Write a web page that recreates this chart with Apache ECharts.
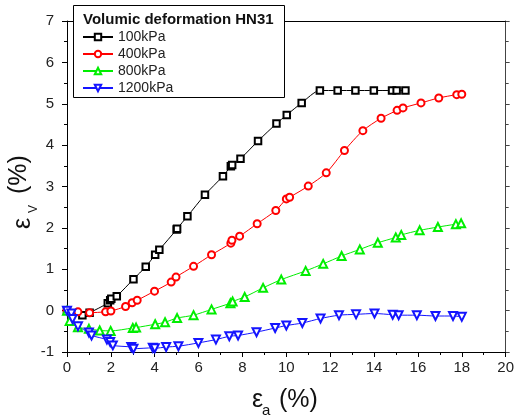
<!DOCTYPE html>
<html><head><meta charset="utf-8">
<script src="https://cdn.jsdelivr.net/npm/echarts@6/dist/echarts.min.js"></script>
<style>html,body{margin:0;padding:0;background:#fff}#c{width:517px;height:419px}</style>
</head><body><div id="c"></div>
<script>
const seriesNames = ['100kPa', '400kPa', '800kPa', '1200kPa'];
const legendTitle = 'Volumic deformation HN31';
const xTicks = [0, 2, 4, 6, 8, 10, 12, 14, 16, 18, 20];
const yTicks = [-1, 0, 1, 2, 3, 4, 5, 6, 7];

const x100 = [0, 0.7, 1.03, 1.86, 1.97, 2.02, 2.27, 3.03, 3.59, 4.02, 4.21, 5.0, 5.02, 5.49, 6.29, 7.11, 7.47, 7.53, 7.91, 8.71, 9.55, 10.02, 10.7, 11.53, 12.34, 13.15, 13.99, 14.82, 15.03, 15.43];
const y100 = [0, -0.11, -0.05, 0.18, 0.25, 0.29, 0.35, 0.76, 1.06, 1.35, 1.47, 1.96, 1.98, 2.28, 2.80, 3.25, 3.49, 3.52, 3.67, 4.10, 4.52, 4.73, 5.02, 5.32, 5.32, 5.32, 5.32, 5.32, 5.32, 5.32];

const x400 = [0, 0.5, 1.03, 1.76, 2.0, 2.67, 2.97, 3.2, 3.99, 4.75, 4.97, 5.77, 6.59, 7.47, 7.52, 7.87, 8.67, 9.52, 10.0, 10.15, 11.0, 11.82, 12.65, 13.49, 14.32, 15.05, 15.32, 16.14, 16.95, 17.77, 18.0];
const y400 = [0, -0.03, -0.05, -0.03, -0.01, 0.1, 0.19, 0.25, 0.47, 0.69, 0.81, 1.07, 1.35, 1.63, 1.70, 1.80, 2.10, 2.42, 2.70, 2.74, 3.01, 3.33, 3.87, 4.35, 4.65, 4.84, 4.90, 5.02, 5.14, 5.22, 5.23];

const x800 = [0, 0.12, 0.5, 1.0, 1.49, 1.99, 3.0, 3.15, 4.02, 4.47, 5.02, 5.77, 6.59, 7.45, 7.55, 8.1, 8.94, 9.77, 10.88, 11.68, 12.52, 13.35, 14.17, 14.99, 15.24, 16.08, 16.91, 17.73, 17.97];
const y800 = [0, -0.25, -0.40, -0.44, -0.48, -0.49, -0.42, -0.41, -0.33, -0.28, -0.18, -0.11, 0.03, 0.18, 0.22, 0.33, 0.55, 0.75, 0.96, 1.13, 1.32, 1.48, 1.64, 1.77, 1.83, 1.94, 2.02, 2.09, 2.11];

const x1200 = [0, 0.2, 0.25, 0.5, 1.0, 1.12, 1.82, 1.97, 2.09, 2.93, 3.03, 3.91, 4.0, 4.52, 5.08, 5.99, 6.79, 7.4, 7.8, 8.64, 9.49, 10.0, 10.73, 11.56, 12.4, 13.18, 14.02, 14.85, 15.12, 15.95, 16.8, 17.6, 18.0];
const y1200 = [0, -0.07, -0.2, -0.38, -0.53, -0.6, -0.70, -0.76, -0.84, -0.88, -0.92, -0.90, -0.91, -0.88, -0.86, -0.78, -0.70, -0.62, -0.60, -0.52, -0.42, -0.36, -0.30, -0.19, -0.11, -0.09, -0.07, -0.10, -0.11, -0.11, -0.13, -0.13, -0.15];

const colors = ['#000000', '#ff0000', '#00ee00', '#1414ff'];
const symbols = ['emptyRect', 'emptyCircle', 'emptyTriangle', 'emptyTriangle'];
const rotates = [0, 0, 0, 180];
const sizes = [6.5, 7, 8, 8];
const xs = [x100, x400, x800, x1200];
const ys = [y100, y400, y800, y1200];

const FONT = 'Liberation Sans, Arial, sans-serif';
const chart = echarts.init(document.getElementById('c'), null, {renderer: 'canvas'});

const series = seriesNames.map((name, i) => ({
  name: name,
  type: 'line',
  data: xs[i].map((x, j) => [x, ys[i][j]]),
  symbol: symbols[i],
  symbolSize: sizes[i],
  symbolRotate: rotates[i],
  smooth: 0.25,
  lineStyle: {color: colors[i], width: 1},
  itemStyle: {color: colors[i], borderColor: colors[i], borderWidth: 1},
  z: 2
}));

const axisCommon = {
  axisLine: {show: true, onZero: false, lineStyle: {color: '#000', width: 1}},
  splitLine: {show: false},
  axisLabel: {color: '#222', fontSize: 15, fontFamily: FONT}
};

const txt = (text, size, extra) => Object.assign({type: 'text', z: 20, style: {text: text, font: size + 'px ' + FONT, fill: '#111'}}, extra);

chart.setOption({
  animation: false,
  backgroundColor: '#fff',
  grid: {left: 67, right: 10, top: 21, bottom: 67, containLabel: false},
  xAxis: [
    Object.assign({}, axisCommon, {
      type: 'value', min: xTicks[0], max: xTicks[xTicks.length - 1], interval: 2, position: 'bottom',
      axisTick: {show: true, inside: false, length: 5, lineStyle: {color: '#000'}},
      minorTick: {show: true, splitNumber: 2, length: 3, lineStyle: {color: '#000'}},
      axisLabel: Object.assign({}, axisCommon.axisLabel, {margin: 8})
    }),
    Object.assign({}, axisCommon, {
      type: 'value', min: xTicks[0], max: xTicks[xTicks.length - 1], interval: 2, position: 'top',
      axisTick: {show: false}, axisLabel: {show: false}
    })
  ],
  yAxis: [
    Object.assign({}, axisCommon, {
      type: 'value', min: yTicks[0], max: yTicks[yTicks.length - 1], interval: 1, position: 'left',
      axisTick: {show: true, inside: false, length: 5, lineStyle: {color: '#000'}},
      minorTick: {show: true, splitNumber: 2, length: 3, lineStyle: {color: '#000'}},
      axisLabel: Object.assign({}, axisCommon.axisLabel, {margin: 13})
    }),
    Object.assign({}, axisCommon, {
      type: 'value', min: yTicks[0], max: yTicks[yTicks.length - 1], interval: 1, position: 'right',
      axisLine: {show: true, onZero: false, lineStyle: {color: '#444', width: 1}},
      axisTick: {show: true, inside: false, length: 4, lineStyle: {color: '#444'}},
      minorTick: {show: true, splitNumber: 2, length: 3, lineStyle: {color: '#444'}},
      axisLabel: {show: false}
    })
  ],
  legend: {
    data: seriesNames,
    orient: 'vertical',
    left: 82, top: 30,
    itemWidth: 30, itemHeight: 8, itemGap: 3,
    padding: 0,
    textStyle: {fontSize: 14, fontFamily: FONT, color: '#222'},
    z: 20
  },
  graphic: [
    {type: 'rect', left: 73, top: 5, shape: {width: 211, height: 92}, style: {fill: '#fff', stroke: '#000', lineWidth: 1}, z: 15},
    {type: 'text', left: 83, top: 12, style: {text: legendTitle, font: 'bold 15px ' + FONT, fill: '#111'}, z: 20},
    txt('ε', 25, {left: 252, top: 388}),
    txt('a', 15, {left: 262, top: 403}),
    txt('(%)', 25, {left: 279, top: 388}),
    txt('ε', 25, {x: 11, y: 229, rotation: Math.PI / 2}),
    txt('V', 12, {x: 28, y: 213, rotation: Math.PI / 2}),
    txt('(%)', 25, {x: 7, y: 194, rotation: Math.PI / 2})
  ],
  series: series
});
</script></body></html>
